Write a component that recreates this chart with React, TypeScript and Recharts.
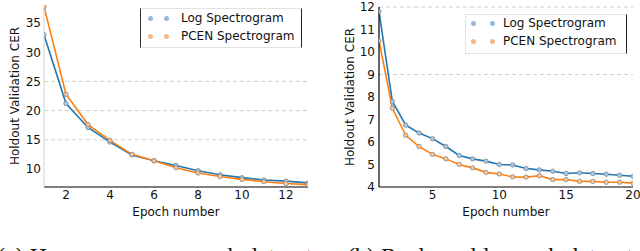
import { LineChart, Line, XAxis, YAxis, ReferenceLine } from 'recharts';

// (a) homogeneous speech dataset
const epochsA = [1, 2, 3, 4, 5, 6, 7, 8, 9, 10, 11, 12, 13];
const logA = [33.0, 21.2, 17.1, 14.6, 12.4, 11.4, 10.6, 9.7, 9.0, 8.5, 8.1, 7.9, 7.6];
const pcenA = [37.8, 22.8, 17.6, 14.9, 12.5, 11.4, 10.2, 9.3, 8.7, 8.2, 7.8, 7.5, 7.3];
const xTicksA = [2, 4, 6, 8, 10, 12];
const yTicksA = [10, 15, 20, 25, 30, 35];
const gridA = [15, 20, 25];

// (b) real-world speech dataset
const epochsB = [1, 2, 3, 4, 5, 6, 7, 8, 9, 10, 11, 12, 13, 14, 15, 16, 17, 18, 19, 20];
const logB = [11.8, 7.8, 6.75, 6.4, 6.15, 5.8, 5.4, 5.25, 5.15, 5.0, 4.98, 4.82, 4.76, 4.7, 4.6, 4.63, 4.6, 4.57, 4.52, 4.48];
const pcenB = [10.5, 7.5, 6.3, 5.8, 5.45, 5.25, 5.0, 4.85, 4.65, 4.58, 4.45, 4.44, 4.5, 4.33, 4.33, 4.25, 4.25, 4.21, 4.21, 4.17];
const xTicksB = [5, 10, 15, 20];
const yTicksB = [4, 5, 6, 7, 8, 9, 10, 11, 12];
const gridB = [9, 12];

const seriesNames = ['Log Spectrogram', 'PCEN Spectrogram'];
const captions = ['(a) Homogeneous speech dataset', '(b) Real-world speech dataset'];

const FONT = '"DejaVu Sans", sans-serif';
const BLUE = '#1f77b4';
const ORANGE = '#ff7f0e';

const rowsA = epochsA.map((e, i) => ({ epoch: e, log: logA[i], pcen: pcenA[i] }));
const rowsB = epochsB.map((e, i) => ({ epoch: e, log: logB[i], pcen: pcenB[i] }));

const tickStyle = { fontSize: 12, fill: '#111', fontFamily: FONT };

function LegendBox({ left, top, dots, text, rows, leftEdge }: { left: number; top: number; dots: number[]; text: number; rows: number[]; leftEdge: boolean }) {
  const fills = ['#93b8da', '#f6b683'];
  return (
    <div
      style={{
        position: 'absolute',
        left,
        top,
        width: 160,
        height: 38,
        border: '1px solid #e2e2e2',
        borderRight: '1.5px solid #222',
        borderLeft: leftEdge ? '1.5px solid #333' : '1px solid #e2e2e2',
        background: '#fff',
        fontFamily: FONT,
        fontSize: 12,
        color: '#111',
      }}
    >
      {seriesNames.map((n, i) => (
        <div key={n}>
          {dots.map((d) => (
            <span
              key={d}
              style={{
                position: 'absolute',
                left: d - 2.5,
                top: rows[i] - 2.5,
                width: 5,
                height: 5,
                borderRadius: 3,
                background: fills[i],
              }}
            />
          ))}
          <span style={{ position: 'absolute', left: text, top: rows[i] - 8, lineHeight: '16px', whiteSpace: 'nowrap' }}>{n}</span>
        </div>
      ))}
    </div>
  );
}

const dotLog = { r: 2.2, fill: '#aac8e4', stroke: '#7a7a7a', strokeWidth: 0.7 };
const dotPcen = { r: 2.2, fill: '#fcc79a', stroke: '#7a7a7a', strokeWidth: 0.7 };

export default function App() {
  return (
    <div style={{ position: 'absolute', left: 0, top: 0, width: 640, height: 251, overflow: 'hidden', background: '#fff' }}>
      <div style={{ position: 'absolute', left: 0, top: 0 }}>
        <LineChart width={320} height={251} data={rowsA} margin={{ top: 5, right: 12, bottom: 34, left: 4 }}>
          {gridA.map((g) => (
            <ReferenceLine key={g} y={g} stroke="#d0d0d0" strokeDasharray="4 3" />
          ))}
          <XAxis
            dataKey="epoch"
            type="number"
            domain={[1, 13]}
            ticks={xTicksA}
            interval={0}
            allowDataOverflow
            height={30}
            tickLine={false}
            tickSize={0}
            tickMargin={3}
            axisLine={{ stroke: '#000', strokeWidth: 1.2 }}
            tick={tickStyle}
            label={{ value: 'Epoch number', position: 'insideBottom', offset: 1, style: { ...tickStyle, textAnchor: 'middle' } }}
          />
          <YAxis
            type="number"
            domain={[6.9, 38.1]}
            ticks={yTicksA}
            interval={0}
            allowDataOverflow
            width={40}
            tickLine={false}
            tickSize={0}
            tickMargin={3}
            axisLine={{ stroke: '#d8d8d8', strokeWidth: 1.2 }}
            tick={tickStyle}
            label={{ value: 'Holdout Validation CER', angle: -90, position: 'insideLeft', offset: 11, style: { ...tickStyle, textAnchor: 'middle' } }}
          />
          <Line dataKey="log" stroke={BLUE} strokeWidth={1.6} dot={dotLog} isAnimationActive={false} />
          <Line dataKey="pcen" stroke={ORANGE} strokeWidth={1.6} dot={dotPcen} isAnimationActive={false} />
        </LineChart>
        <LegendBox left={140} top={8} dots={[9, 25]} text={40} rows={[9, 27]} leftEdge />
      </div>
      <div style={{ position: 'absolute', left: 320, top: 0 }}>
        <LineChart width={320} height={251} data={rowsB} margin={{ top: 7, right: 7, bottom: 34, left: 1 }}>
          {gridB.map((g) => (
            <ReferenceLine key={g} y={g} stroke="#d0d0d0" strokeDasharray="4 3" />
          ))}
          <XAxis
            dataKey="epoch"
            type="number"
            domain={[1, 20]}
            ticks={xTicksB}
            interval={0}
            allowDataOverflow
            height={30}
            tickLine={false}
            tickSize={0}
            tickMargin={3}
            axisLine={{ stroke: '#000', strokeWidth: 1.2 }}
            tick={tickStyle}
            label={{ value: 'Epoch number', position: 'insideBottom', offset: 1, style: { ...tickStyle, textAnchor: 'middle' } }}
          />
          <YAxis
            type="number"
            domain={[4, 12]}
            ticks={yTicksB}
            interval={0}
            allowDataOverflow
            width={58}
            tickLine={false}
            tickSize={0}
            tickMargin={4}
            axisLine={{ stroke: '#000', strokeWidth: 1.2 }}
            tick={tickStyle}
            label={{ value: 'Holdout Validation CER', angle: -90, position: 'insideLeft', offset: 29, style: { ...tickStyle, textAnchor: 'middle' } }}
          />
          <Line dataKey="log" stroke={BLUE} strokeWidth={1.6} dot={dotLog} isAnimationActive={false} />
          <Line dataKey="pcen" stroke={ORANGE} strokeWidth={1.6} dot={dotPcen} isAnimationActive={false} />
        </LineChart>
        <LegendBox left={145} top={14} dots={[7, 26]} text={37} rows={[8, 26]} leftEdge={false} />
      </div>
      <svg width={640} height={251} style={{ position: 'absolute', left: 0, top: 0, pointerEvents: 'none' }}>
        <text x={-3} y={264} fontFamily='"Liberation Serif", serif' fontSize={24} fill="#111">
          {captions[0]}
        </text>
        <text x={347} y={264} fontFamily='"Liberation Serif", serif' fontSize={24} fill="#111">
          {captions[1]}
        </text>
      </svg>
    </div>
  );
}
